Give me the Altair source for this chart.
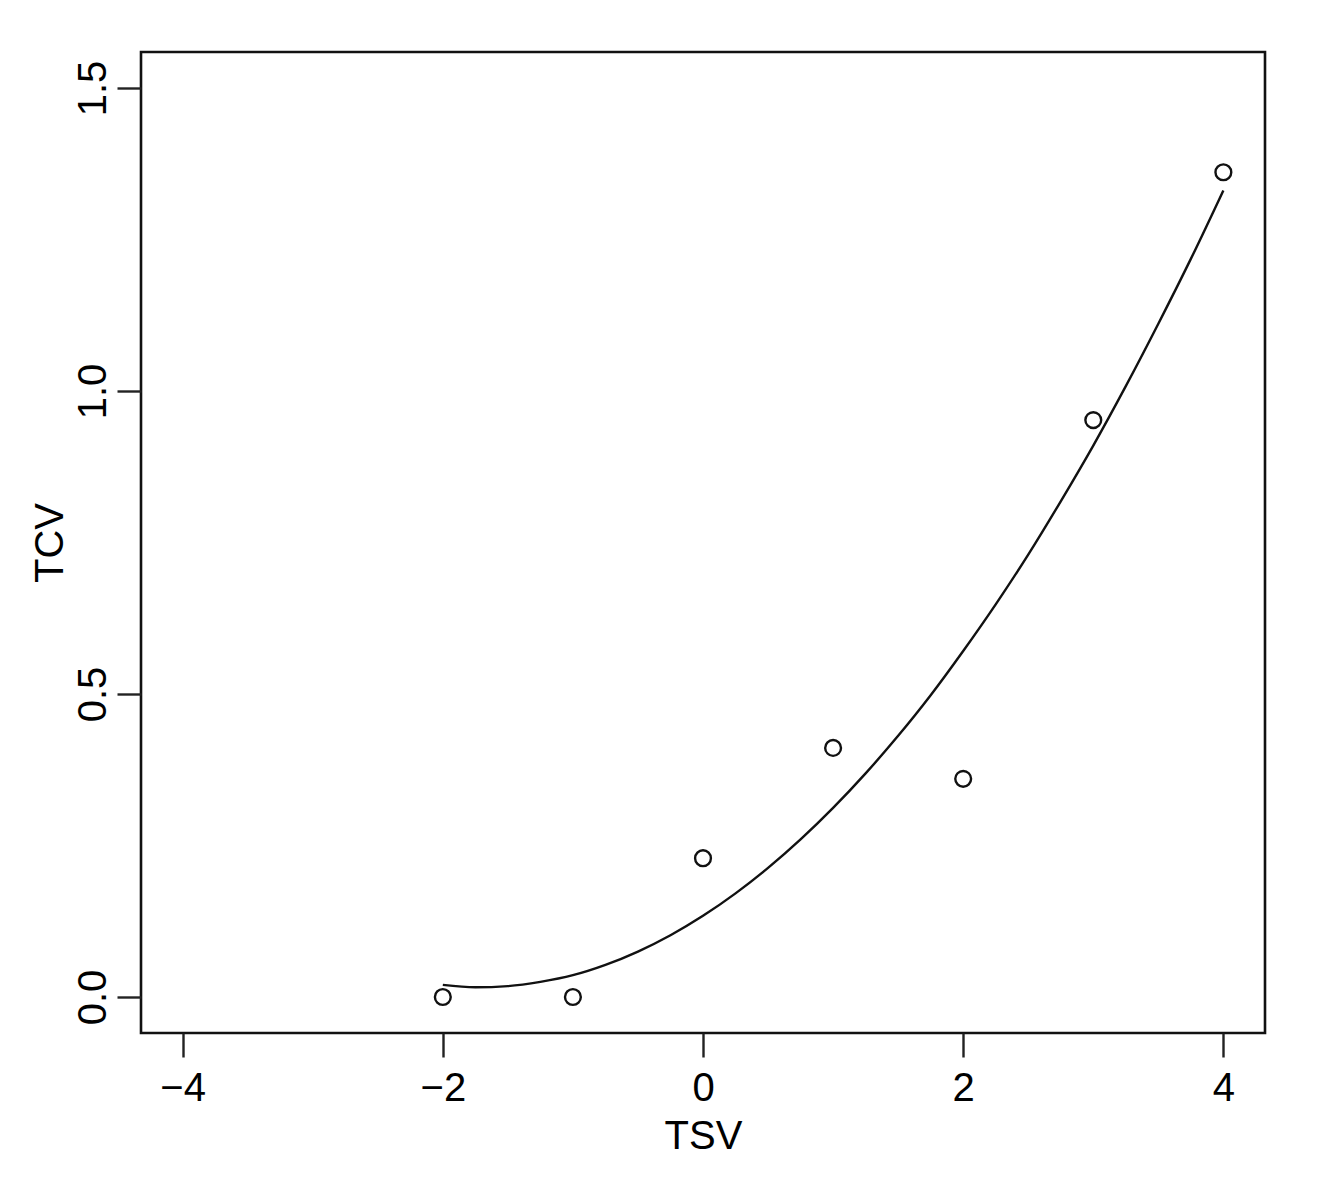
import altair as alt
import pandas as pd

# Observed points
tsv = [-2, -1, 0, 1, 2, 3, 4]
tcv = [0.0, 0.0, 0.229, 0.411, 0.36, 0.952, 1.361]

# Fitted curve
curve_x = [-2.0, -1.75, -1.5, -1.25, -1.0, -0.75, -0.5, -0.25, 0.0, 0.25, 0.5, 0.75,
           1.0, 1.25, 1.5, 1.75, 2.0, 2.25, 2.5, 2.75, 3.0, 3.25, 3.5, 3.75, 4.0]
curve_y = [0.020, 0.016, 0.018, 0.025, 0.036, 0.053, 0.075, 0.102, 0.134, 0.171, 0.213, 0.260,
           0.312, 0.369, 0.431, 0.498, 0.571, 0.648, 0.730, 0.818, 0.910, 1.008, 1.111, 1.218, 1.331]

x_ticks = [-4, -2, 0, 2, 4]
y_ticks = [0.0, 0.5, 1.0, 1.5]

pts = pd.DataFrame({"TSV": tsv, "TCV": tcv})
crv = pd.DataFrame({"TSV": curve_x, "TCV": curve_y})

FONT = "Liberation Sans"
W, H = 1124, 981

xscale = alt.Scale(domain=[-4.32, 4.32], nice=False, zero=False)
yscale = alt.Scale(domain=[-0.0594, 1.5594], nice=False, zero=False)

xaxis = alt.Axis(values=x_ticks, title="TSV", format="d", labelFlush=False,
                 labelBaseline="alphabetic", labelPadding=43,
                 titleX=W / 2, titleY=115, titleBaseline="alphabetic", titleAlign="center")
yaxis = alt.Axis(values=y_ticks, title="TCV", format=".1f", labelFlush=False,
                 labelAngle=270, labelAlign="center", labelBaseline="alphabetic", labelPadding=12,
                 titleAngle=270, titleX=-79, titleY=H / 2, titleBaseline="alphabetic",
                 titleAlign="center")

line = alt.Chart(crv).mark_line(color="#111111", strokeWidth=2.4, interpolate="monotone").encode(
    x=alt.X("TSV:Q", scale=xscale, axis=xaxis),
    y=alt.Y("TCV:Q", scale=yscale, axis=yaxis),
)

points = alt.Chart(pts).mark_point(shape="circle", filled=False, size=250,
                                   color="#111111", strokeWidth=2.4, opacity=1).encode(
    x=alt.X("TSV:Q", scale=xscale),
    y=alt.Y("TCV:Q", scale=yscale),
)

chart = (line + points).properties(
    width=W, height=H,
    autosize=alt.AutoSizeParams(type="none"),
    padding={"left": 133, "top": 44, "right": 40, "bottom": 140},
    background="white",
).configure_view(
    stroke="#111111", strokeWidth=2.6, fill="white"
).configure_axis(
    domain=False, grid=False, ticks=True, tickSize=24, tickWidth=2.4, tickColor="#222222",
    labelFont=FONT, labelFontSize=40, labelColor="#000000",
    titleFont=FONT, titleFontSize=40, titleFontWeight="normal", titleColor="#000000",
)

chart.save("out.html", embed_options={"renderer": "svg", "actions": False})
